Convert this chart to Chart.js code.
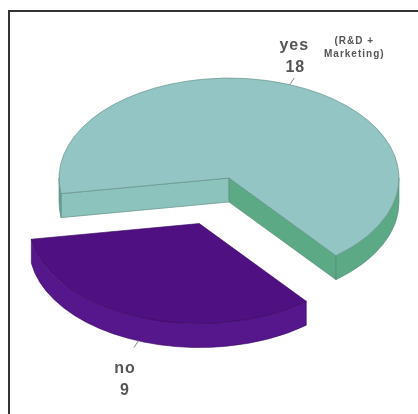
<!DOCTYPE html>
<html><head><meta charset="utf-8">
<script src="https://cdn.jsdelivr.net/npm/chart.js@4/dist/chart.umd.min.js"></script>
<style>html,body{margin:0;padding:0;background:#fff}#wrap{position:relative;width:418px;height:414px}</style>
</head><body><div id="wrap"><canvas id="c" width="418" height="414"></canvas></div>
<script>
// ---- data ----
const categories = ['yes', 'no'];
const values = [18, 9];
const notes = [['(R&D +', 'Marketing)'], []];

// ---- styles ----
const topColors = ['#92c5c3', '#4f1181'];
const wallColors = ['#5ba985', '#57178c'];
const lightFaceColors = ['#8cc3bd', '#57178c'];
const edgeColors = ['#5f8c82', '#3b0a63'];
const explode = [0, 83];
const SQUASH = 0.588, DEPTH = 24;

function frontRanges(a, b) {
  const out = [];
  for (let n = -2; n <= 3; n++) {
    const s = Math.max(a, 2 * Math.PI * n), e = Math.min(b, 2 * Math.PI * n + Math.PI);
    if (e > s) out.push([s, e]);
  }
  return out;
}

const pie3d = {
  id: 'pie3d',
  beforeDatasetsDraw(chart) {
    const ctx = chart.ctx, ca = chart.chartArea;
    const cx = (ca.left + ca.right) / 2, cy = (ca.top + ca.bottom) / 2;
    const meta = chart.getDatasetMeta(0);
    chart.$saved = meta.data.map(a => [a.x, a.y]);
    meta.data.forEach((arc, i) => {
      const mid = (arc.startAngle + arc.endAngle) / 2;
      arc.x += Math.cos(mid) * explode[i];
      arc.y += Math.sin(mid) * explode[i];
    });
    ctx.save();
    ctx.translate(cx, cy); ctx.scale(1, SQUASH); ctx.translate(-cx, -cy);
    const h = DEPTH / SQUASH;
    meta.data.forEach((arc, i) => {
      const {x, y, startAngle: a, endAngle: b, outerRadius: r} = arc;
      ctx.lineWidth = 0.8;
      ctx.strokeStyle = edgeColors[i];
      // cut faces
      [[a, -1], [b, 1]].forEach(([ang, dir]) => {
        const nx = Math.cos(ang + dir * Math.PI / 2), ny = Math.sin(ang + dir * Math.PI / 2);
        if (ny <= 0) return;
        ctx.beginPath();
        ctx.moveTo(x, y);
        ctx.lineTo(x + r * Math.cos(ang), y + r * Math.sin(ang));
        ctx.lineTo(x + r * Math.cos(ang), y + r * Math.sin(ang) + h);
        ctx.lineTo(x, y + h);
        ctx.closePath();
        ctx.fillStyle = nx > 0 ? lightFaceColors[i] : wallColors[i];
        ctx.fill(); ctx.stroke();
      });
      // outer wall (front part)
      frontRanges(a, b).forEach(([s, e]) => {
        ctx.beginPath();
        ctx.arc(x, y, r, s, e);
        ctx.lineTo(x + r * Math.cos(e), y + r * Math.sin(e) + h);
        ctx.arc(x, y + h, r, e, s, true);
        ctx.closePath();
        ctx.fillStyle = wallColors[i];
        ctx.fill(); ctx.stroke();
      });
    });
  },
  afterDatasetsDraw(chart) {
    const ctx = chart.ctx, ca = chart.chartArea;
    ctx.restore();
    const cx = (ca.left + ca.right) / 2, cy = (ca.top + ca.bottom) / 2;
    const meta = chart.getDatasetMeta(0);
    meta.data.forEach((arc, i) => {
      const mid = (arc.startAngle + arc.endAngle) / 2;
      const r = arc.outerRadius;
      const px = cx + (arc.x - cx) + r * Math.cos(mid);
      let py = cy + (arc.y - cy) * SQUASH + r * Math.sin(mid) * SQUASH;
      const up = Math.sin(mid) < 0;
      if (!up) py += DEPTH;
      let dx = Math.cos(mid), dy = Math.sin(mid) * SQUASH;
      const L = Math.hypot(dx, dy); dx /= L; dy /= L;
      const tx = px + dx * 8, ty = py + dy * 8;
      ctx.save();
      ctx.strokeStyle = '#888'; ctx.lineWidth = 1;
      ctx.beginPath(); ctx.moveTo(px, py); ctx.lineTo(tx, ty); ctx.stroke();
      ctx.fillStyle = '#555';
      ctx.textAlign = 'center';
      ctx.textBaseline = 'alphabetic';
      ctx.font = 'bold 16px "Liberation Sans", Arial, sans-serif';
      ctx.letterSpacing = '1px';
      if (up) {
        ctx.fillText(categories[i], tx, ty - 28);
        ctx.fillText(String(values[i]), tx + 1, ty - 6);
        ctx.font = 'bold 10px "Liberation Sans", Arial, sans-serif';
        ctx.letterSpacing = '1px';
        notes[i].forEach((t, k) => ctx.fillText(t, tx + 60, ty - 34 + k * 13));
      } else {
        ctx.fillText(categories[i], tx - 9, ty + 25);
        ctx.fillText(String(values[i]), tx - 9, ty + 47);
      }
      ctx.restore();
    });
    meta.data.forEach((arc, i) => { arc.x = chart.$saved[i][0]; arc.y = chart.$saved[i][1]; });
  },
  afterDraw(chart) {
    const ctx = chart.ctx;
    ctx.save();
    ctx.strokeStyle = '#333'; ctx.lineWidth = 2;
    ctx.beginPath();
    ctx.moveTo(9, 414); ctx.lineTo(9, 11); ctx.lineTo(418, 11);
    ctx.stroke();
    ctx.restore();
  }
};

new Chart(document.getElementById('c'), {
  type: 'pie',
  data: {
    labels: categories,
    datasets: [{
      data: values,
      backgroundColor: topColors,
      borderColor: edgeColors,
      borderWidth: 0.8
    }]
  },
  options: {
    responsive: false,
    animation: false,
    rotation: 261,
    radius: 170,
    layout: { padding: { left: 40, right: 0, top: 0, bottom: 58 } },
    plugins: { legend: { display: false }, tooltip: { enabled: false } },
    events: []
  },
  plugins: [pie3d]
});
</script>
</body></html>
